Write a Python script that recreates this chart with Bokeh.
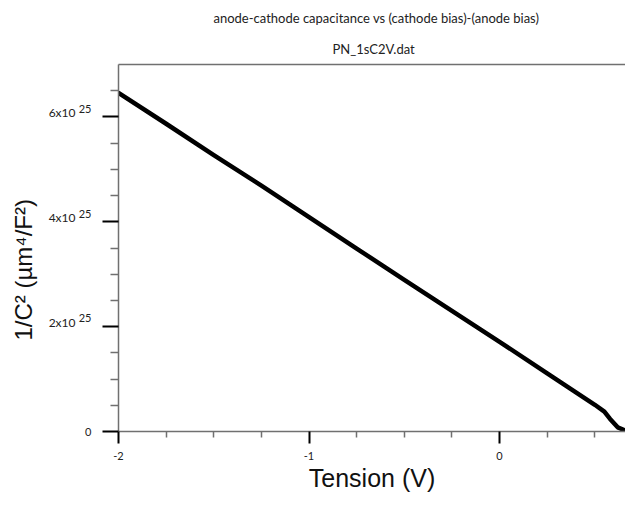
from bokeh.plotting import figure
from bokeh.models import FixedTicker, LinearAxis, Title, Range1d
from bokeh.embed import file_html
from bokeh.resources import INLINE

# Data
tension_v = [-2.0, -1.75, -1.5, -1.25, -1.0, -0.75, -0.5, -0.25, 0.0, 0.25, 0.5, 0.55, 0.58, 0.62, 0.66]
inv_c2 = [6.46e25, 5.87e25, 5.27e25, 4.69e25, 4.09e25, 3.49e25, 2.89e25, 2.30e25, 1.71e25,
          1.11e25, 0.51e25, 0.38e25, 0.24e25, 0.08e25, 0.02e25]

x_major_ticks = [-2, -1, 0]
x_minor_ticks = [-1.75, -1.5, -1.25, -0.75, -0.5, -0.25, 0.25, 0.5]
x_tick_labels = ["-2", "-1", "0"]
y_major_ticks = [0, 2e25, 4e25, 6e25]
y_minor_ticks = [0.5e25, 1e25, 1.5e25, 2.5e25, 3e25, 3.5e25, 4.5e25, 5e25, 5.5e25, 6.5e25]
y_tick_mantissa = ["", "2x10", "4x10", "6x10"]
y_tick_exponent = ["0", "25", "25", "25"]

title_line1 = "anode-cathode capacitance vs (cathode bias)-(anode bias)"
title_line2 = "PN_1sC2V.dat"
x_label = "Tension (V)"
y_label = "1/C² (µm⁴/F²)"

p = figure(width=625, height=512, output_backend="svg", toolbar_location=None,
           x_range=Range1d(-2, 0.661), y_range=Range1d(0, 7e25),
           min_border_left=118, min_border_right=0, min_border_bottom=81, min_border_top=64,
           x_axis_type=None, y_axis_type=None)
p.grid.visible = False
p.outline_line_color = None
p.background_fill_color = "white"
p.border_fill_color = "white"

p.line(tension_v, inv_c2, line_width=4.5, color="black", line_join="round", line_cap="round")

axis_color = "#707070"
label_color = "#222222"

xa = LinearAxis(ticker=FixedTicker(ticks=x_major_ticks, minor_ticks=x_minor_ticks))
xa.major_label_overrides = {t: l for t, l in zip(x_major_ticks, x_tick_labels)}
xa.axis_line_color = axis_color
xa.axis_line_width = 1.5
xa.major_tick_line_color = "black"
xa.major_tick_line_width = 2
xa.major_tick_in = 0
xa.major_tick_out = 12
xa.minor_tick_in = 0
xa.minor_tick_out = 6
xa.minor_tick_line_color = axis_color
xa.minor_tick_line_width = 1.5
xa.major_label_text_font = "Lato"
xa.major_label_text_font_size = "11px"
xa.major_label_text_color = label_color
xa.major_label_standoff = 8
xa.axis_label = x_label
xa.axis_label_text_font = "Liberation Sans"
xa.axis_label_text_font_size = "25px"
xa.axis_label_text_font_style = "normal"
xa.axis_label_text_color = "#111111"
xa.axis_label_standoff = 1
p.add_layout(xa, "below")

# inner left axis: ticks + exponents (raised via a second, blank line)
ya = LinearAxis(ticker=FixedTicker(ticks=y_major_ticks, minor_ticks=y_minor_ticks))
ya.major_label_overrides = {t: (e if m == "" else e + "\n ")
                            for t, m, e in zip(y_major_ticks, y_tick_mantissa, y_tick_exponent)}
ya.axis_line_color = axis_color
ya.axis_line_width = 1.5
ya.major_tick_line_color = "black"
ya.major_tick_line_width = 2
ya.major_tick_in = 0
ya.major_tick_out = 16
ya.minor_tick_in = 0
ya.minor_tick_out = 8
ya.minor_tick_line_color = axis_color
ya.minor_tick_line_width = 1.5
ya.major_label_text_font = "Lato"
ya.major_label_text_font_size = "11px"
ya.major_label_text_line_height = 1.35
ya.major_label_text_color = label_color
ya.major_label_standoff = 11
p.add_layout(ya, "left")

# outer left axis: mantissas
yb = LinearAxis(ticker=FixedTicker(ticks=y_major_ticks, minor_ticks=[]))
yb.major_label_overrides = {t: (m + "\n " if m else "")
                            for t, m in zip(y_major_ticks, y_tick_mantissa)}
yb.axis_line_color = None
yb.major_tick_line_color = None
yb.minor_tick_line_color = None
yb.major_tick_in = 0
yb.major_tick_out = 0
yb.minor_tick_in = 0
yb.minor_tick_out = 0
yb.major_label_text_font = "Lato"
yb.major_label_text_font_size = "12px"
yb.major_label_text_line_height = 0.6
yb.major_label_text_color = label_color
yb.major_label_standoff = 0
p.add_layout(yb, "left")

# y axis title (placed as a rotated side title so it can sit off-centre like the reference)
ty = Title(text=y_label, align="left", offset=91, text_font="Liberation Sans", text_font_size="24px",
           text_font_style="normal", text_color="#111111", vertical_align="top", standoff=14)
p.add_layout(ty, "left")

top = LinearAxis(ticker=FixedTicker(ticks=[], minor_ticks=[]))
top.axis_line_color = axis_color
top.axis_line_width = 1.5
top.major_tick_out = 0
top.minor_tick_out = 0
top.major_label_standoff = 0
p.add_layout(top, "above")

t2 = Title(text=title_line2, align="left", offset=214, text_font="Lato", text_font_size="13px",
           text_font_style="normal", text_color=label_color, standoff=16)
p.add_layout(t2, "above")
t1 = Title(text=title_line1, align="left", offset=95, text_font="Lato", text_font_size="13px",
           text_font_style="normal", text_color=label_color, standoff=10)
p.add_layout(t1, "above")

open("out.html", "w").write(file_html(p, INLINE))
